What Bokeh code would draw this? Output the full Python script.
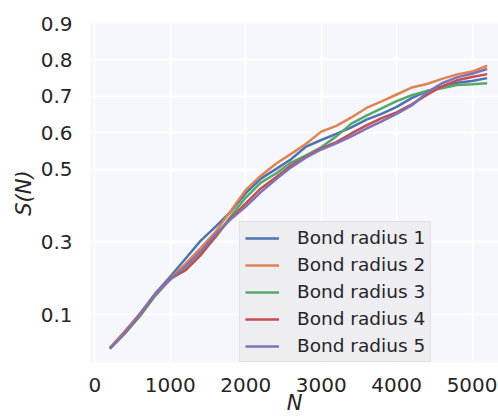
from bokeh.plotting import figure
from bokeh.models import ColumnDataSource, Legend, LegendItem, FixedTicker
from bokeh.embed import file_html
from bokeh.resources import INLINE

N = [200, 400, 600, 800, 1000, 1200, 1400, 1600, 1800, 2000, 2200, 2400, 2600,
     2800, 3000, 3200, 3400, 3600, 3800, 4000, 4200, 4400, 4600, 4800, 5000, 5200]

radius_1 = [0.008, 0.052, 0.103, 0.158, 0.205, 0.254, 0.303, 0.342, 0.383, 0.434, 0.474, 0.500, 0.527,
            0.562, 0.580, 0.597, 0.615, 0.636, 0.652, 0.671, 0.695, 0.714, 0.727, 0.737, 0.742, 0.750]
radius_2 = [0.009, 0.056, 0.104, 0.157, 0.200, 0.240, 0.283, 0.328, 0.385, 0.443, 0.482, 0.515, 0.542,
            0.570, 0.603, 0.619, 0.642, 0.668, 0.686, 0.705, 0.724, 0.734, 0.748, 0.760, 0.768, 0.784]
radius_3 = [0.007, 0.049, 0.097, 0.152, 0.198, 0.224, 0.265, 0.313, 0.370, 0.422, 0.463, 0.488, 0.518,
            0.538, 0.560, 0.590, 0.625, 0.647, 0.667, 0.687, 0.703, 0.715, 0.722, 0.731, 0.733, 0.736]
radius_4 = [0.008, 0.051, 0.101, 0.156, 0.200, 0.222, 0.263, 0.316, 0.365, 0.406, 0.447, 0.478, 0.510,
            0.534, 0.557, 0.574, 0.598, 0.620, 0.640, 0.656, 0.678, 0.704, 0.727, 0.744, 0.753, 0.761]
radius_5 = [0.007, 0.052, 0.103, 0.158, 0.197, 0.233, 0.274, 0.322, 0.362, 0.397, 0.437, 0.472, 0.505,
            0.532, 0.554, 0.571, 0.590, 0.611, 0.631, 0.652, 0.675, 0.710, 0.736, 0.752, 0.762, 0.775]

labels = ["Bond radius 1", "Bond radius 2", "Bond radius 3", "Bond radius 4", "Bond radius 5"]
series = [radius_1, radius_2, radius_3, radius_4, radius_5]
colors = ["#4C72B0", "#DD8452", "#55A868", "#C44E52", "#8172B3"]

x_ticks = [0, 1000, 2000, 3000, 4000, 5000]
y_ticks = [0.1, 0.3, 0.5, 0.6, 0.7, 0.8, 0.9]

FONT = "DejaVu Sans"
TXT = "#262626"

p = figure(width=498, height=419, output_backend="svg", toolbar_location=None,
           x_range=(-58, 5350), y_range=(-0.031, 0.9),
           min_border_left=90, min_border_right=0, min_border_top=23, min_border_bottom=57)
p.background_fill_color = "#F6F7FC"
p.border_fill_color = "white"
p.outline_line_color = None

items = []
for lab, ys, c in zip(labels, series, colors):
    src = ColumnDataSource(dict(x=N, y=ys))
    r = p.line("x", "y", source=src, line_color=c, line_width=2.5)
    items.append(LegendItem(label=lab, renderers=[r]))

p.xaxis.ticker = FixedTicker(ticks=x_ticks)
p.yaxis.ticker = FixedTicker(ticks=y_ticks)
p.yaxis.formatter.use_scientific = False
for ax in (p.xaxis[0], p.yaxis[0]):
    ax.axis_line_color = None
    ax.major_tick_line_color = None
    ax.minor_tick_line_color = None
    ax.major_tick_out = 0
    ax.major_tick_in = 0
    ax.major_label_text_font = FONT
    ax.major_label_text_font_size = "20px"
    ax.major_label_text_color = TXT
    ax.axis_label_text_font = FONT
    ax.axis_label_text_font_size = "21px"
    ax.axis_label_text_font_style = "italic"
    ax.axis_label_text_color = TXT

p.xaxis.axis_label = "N"
p.yaxis.axis_label = "S(N)"
p.xaxis.major_label_standoff = 15
p.xaxis.axis_label_standoff = -4
p.yaxis.major_label_standoff = 18
p.yaxis.axis_label_standoff = 2

p.xgrid.ticker = FixedTicker(ticks=x_ticks)
p.ygrid.ticker = FixedTicker(ticks=y_ticks)
p.grid.grid_line_color = "white"
p.grid.grid_line_width = 1.6

legend = Legend(items=items, location=(149, 0))
legend.label_text_font = FONT
legend.label_text_font_size = "18.5px"
legend.label_text_color = TXT
legend.glyph_width = 34
legend.glyph_height = 20
legend.label_height = 20
legend.label_standoff = 18
legend.spacing = 6
legend.padding = 5
legend.margin = 0
legend.background_fill_color = "#EBEBF0"
legend.background_fill_alpha = 0.85
legend.border_line_color = "#D4D4D8"
legend.border_line_width = 1.5
p.add_layout(legend, "center")

open("out.html", "w").write(file_html(p, INLINE))
